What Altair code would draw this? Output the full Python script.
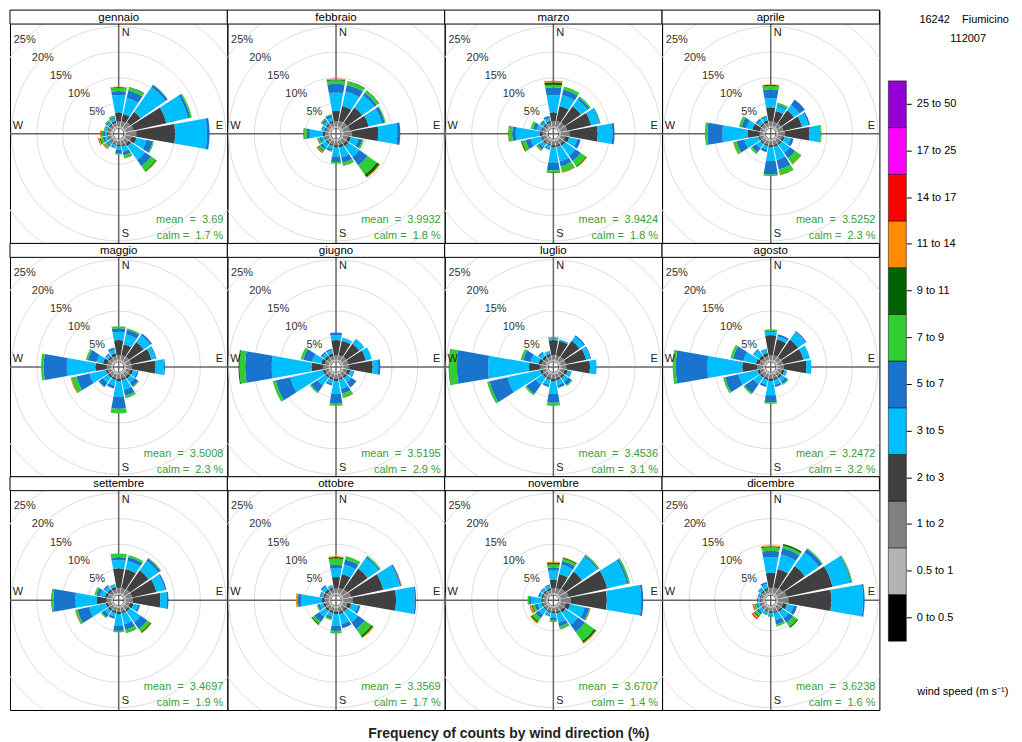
import math
import altair as alt
import pandas as pd

FONT = "Liberation Sans"
NB = "\u00a0"

MONTHS = ["gennaio", "febbraio", "marzo", "aprile", "maggio", "giugno",
          "luglio", "agosto", "settembre", "ottobre", "novembre", "dicembre"]
MEANS = ["3.69", "3.9932", "3.9424", "3.5252", "3.5008", "3.5195",
         "3.4536", "3.2472", "3.4697", "3.3569", "3.6707", "3.6238"]
CALMS = ["1.7", "1.8", "1.8", "2.3", "2.3", "2.9", "3.1", "3.2", "1.9", "1.7", "1.4", "1.6"]

DIRECTIONS = [0, 22.5, 45, 67.5, 90, 112.5, 135, 157.5, 180, 202.5, 225, 247.5, 270, 292.5, 315, 337.5]

SPEED_BINS = ["0 to 0.5", "0.5 to 1", "1 to 2", "2 to 3", "3 to 5", "5 to 7", "7 to 9",
              "9 to 11", "11 to 14", "14 to 17", "17 to 25", "25 to 50"]
SPEED_COLORS = ["#000000", "#B3B3B3", "#808080", "#404040", "#00BFFF", "#1874CD", "#32CD32",
                "#006400", "#FF8C00", "#FF0000", "#FF00FF", "#9400D3"]

RING_VALUES = [5, 10, 15, 20, 25]
RING_LABELS = ["5%", "10%", "15%", "20%", "25%"]

# frequency (%) per direction (16 sectors from N clockwise), per speed bin
GENNAIO = [
    [0.1, 0.4, 0.9, 1.8, 3.4, 0.8, 0.6, 0.15, 0.1],
    [0.1, 0.4, 1.0, 1.5, 3.2, 1.5, 0.6, 0.1],
    [0.1, 0.4, 1.3, 2.5, 5.9, 0.5, 0.1],
    [0.1, 0.4, 1.5, 6.6, 4.3, 0.5, 0.3],
    [0.1, 0.4, 2.0, 7.6, 6.2, 0.5],
    [0.1, 0.4, 1.1, 1.0, 2.0, 1.3, 0.2],
    [0.1, 0.4, 0.9, 0.6, 3.3, 1.5, 1.1, 0.2, 0.1],
    [0.1, 0.4, 0.8, 0.3, 1.1, 0.7, 0.5, 0.1],
    [0.1, 0.4, 0.7, 0.3, 0.7, 0.6, 0.3],
    [0.1, 0.4, 0.6, 0.2, 0.4, 0.2, 0.1],
    [0.1, 0.4, 0.6, 0.2, 0.4, 0.3, 0.4, 0.1, 0.15, 0.1],
    [0.1, 0.4, 0.6, 0.2, 0.5, 0.4, 0.5, 0.2, 0.2, 0.1],
    [0.1, 0.4, 0.6, 0.2, 0.4, 0.4, 0.3, 0.1, 0.15, 0.05],
    [0.1, 0.4, 0.6, 0.2, 0.3, 0.2, 0.15, 0.05],
    [0.1, 0.4, 0.6, 0.3, 0.4, 0.3, 0.2],
    [0.1, 0.4, 0.7, 0.4, 0.5, 0.3, 0.2, 0.1],
]
FEBBRAIO = [
    [0.1, 0.4, 1.0, 2.0, 3.6, 1.7, 0.7, 0.15, 0.1, 0.05],
    [0.1, 0.4, 1.1, 3.0, 2.9, 1.3, 0.7, 0.1],
    [0.1, 0.4, 1.2, 3.6, 2.9, 0.6, 0.5, 0.1],
    [0.1, 0.4, 1.3, 3.8, 2.6, 0.6, 0.2],
    [0.1, 0.4, 1.7, 5.1, 3.7, 0.6],
    [0.1, 0.4, 0.9, 0.6, 1.5, 0.8, 0.3],
    [0.1, 0.4, 0.9, 0.6, 2.6, 2.0, 2.2, 0.6, 0.2],
    [0.1, 0.4, 0.8, 0.5, 2.0, 1.1, 0.5, 0.1],
    [0.1, 0.4, 0.8, 0.4, 1.8, 1.1, 0.3],
    [0.1, 0.4, 0.7, 0.3, 0.6, 0.4, 0.2],
    [0.1, 0.4, 0.7, 0.3, 0.8, 0.5, 0.4, 0.2, 0.2, 0.1],
    [0.1, 0.4, 0.7, 0.2, 0.6, 0.4, 0.3, 0.1],
    [0.1, 0.4, 0.7, 0.4, 2.6, 0.6, 0.5, 0.1, 0.1],
    [0.1, 0.4, 0.6, 0.3, 0.4, 0.2],
    [0.1, 0.4, 0.6, 0.3, 0.6, 0.4, 0.2, 0.1],
    [0.1, 0.4, 0.7, 0.4, 0.7, 0.5, 0.2],
]
MARZO = [
    [0.1, 0.4, 1.0, 1.7, 3.4, 1.5, 0.5, 0.5, 0.2, 0.1],
    [0.1, 0.4, 1.1, 3.0, 2.2, 1.1, 0.6],
    [0.1, 0.4, 1.2, 3.9, 1.6, 0.5, 0.3],
    [0.1, 0.4, 1.3, 4.8, 1.6, 0.2, 0.1],
    [0.1, 0.4, 1.7, 5.5, 2.9, 0.4],
    [0.1, 0.4, 0.9, 0.8, 1.6, 0.7],
    [0.1, 0.4, 0.9, 0.5, 2.4, 1.3, 1.2, 0.2, 0.1],
    [0.1, 0.4, 0.8, 0.4, 2.9, 1.0, 1.1, 0.1, 0.1],
    [0.1, 0.4, 0.8, 0.4, 3.0, 1.5, 0.4, 0.1],
    [0.1, 0.4, 0.7, 0.2, 0.5, 0.3, 0.1],
    [0.1, 0.4, 0.7, 0.3, 0.8, 0.5, 0.3, 0.05, 0.05],
    [0.1, 0.4, 0.7, 0.3, 2.1, 1.0, 0.7, 0.2, 0.1],
    [0.1, 0.4, 0.7, 0.5, 4.7, 0.7, 0.6, 0.15, 0.05],
    [0.1, 0.4, 0.7, 0.3, 0.9, 0.7, 0.5],
    [0.1, 0.4, 0.6, 0.3, 0.5, 0.3, 0.1],
    [0.1, 0.4, 0.7, 0.4, 0.6, 0.4, 0.1],
]
APRILE = [
    [0.1, 0.4, 1.0, 2.7, 1.8, 1.7, 0.7, 0.2, 0.1],
    [0.1, 0.4, 0.9, 2.2, 1.0, 0.3, 0.4],
    [0.1, 0.4, 1.0, 3.1, 1.3, 1.3],
    [0.1, 0.4, 1.1, 3.7, 1.3, 0.3],
    [0.1, 0.4, 1.3, 4.8, 2.1, 0.1, 0.2],
    [0.1, 0.4, 0.8, 0.5, 1.2, 0.6],
    [0.1, 0.4, 0.8, 0.4, 1.9, 1.3, 1.3, 0.1, 0.1],
    [0.1, 0.4, 0.8, 0.4, 2.6, 1.9, 1.0, 0.1, 0.1],
    [0.1, 0.4, 0.8, 0.4, 2.7, 2.6, 0.3],
    [0.1, 0.4, 0.7, 0.3, 0.7, 0.5],
    [0.1, 0.4, 0.7, 0.3, 1.0, 1.0, 0.4],
    [0.1, 0.4, 0.7, 0.3, 2.8, 1.6, 0.5, 0.1, 0.1],
    [0.1, 0.4, 0.7, 2.3, 5.0, 2.9, 0.5],
    [0.1, 0.4, 0.7, 1.5, 1.2, 1.0, 0.5],
    [0.1, 0.4, 0.7, 0.4, 0.6, 0.4, 0.1],
    [0.1, 0.4, 0.7, 0.5, 0.6, 0.3, 0.1],
]
MAGGIO = [
    [0.1, 0.4, 0.9, 2.9, 1.6, 0.7, 0.4],
    [0.1, 0.4, 0.9, 2.2, 2.0, 0.9, 0.3],
    [0.1, 0.4, 1.0, 3.5, 1.6, 0.4],
    [0.1, 0.4, 1.0, 4.1, 0.8, 0.2],
    [0.1, 0.4, 1.1, 4.6, 1.7, 0.2],
    [0.1, 0.4, 0.8, 0.6, 0.8, 0.3],
    [0.1, 0.4, 0.8, 0.5, 1.0, 0.9, 0.2],
    [0.1, 0.4, 0.8, 0.4, 1.9, 1.2, 0.5],
    [0.1, 0.4, 0.8, 0.5, 3.1, 2.3, 0.9],
    [0.1, 0.4, 0.7, 0.4, 1.1, 0.6],
    [0.1, 0.4, 0.7, 0.4, 1.2, 1.0, 0.1],
    [0.1, 0.4, 0.7, 0.4, 3.3, 2.6, 0.9, 0.1, 0.2],
    [0.1, 0.4, 0.9, 2.2, 5.6, 4.5, 0.5],
    [0.1, 0.4, 0.8, 0.9, 1.3, 1.7, 0.4],
    [0.1, 0.4, 0.7, 0.4, 0.5, 0.2],
    [0.1, 0.4, 0.7, 0.6, 0.7, 0.4, 0.1],
]
GIUGNO = [
    [0.1, 0.4, 0.9, 2.9, 1.0, 0.5],
    [0.1, 0.4, 0.9, 2.9, 0.6],
    [0.1, 0.4, 1.0, 3.1, 1.2],
    [0.1, 0.4, 1.0, 3.5, 1.2],
    [0.1, 0.4, 1.1, 4.6, 1.1, 0.4],
    [0.1, 0.4, 0.8, 0.6, 0.6, 0.2],
    [0.1, 0.4, 0.8, 0.4, 1.0, 1.2],
    [0.1, 0.4, 0.8, 0.3, 1.8, 1.0, 0.7, 0.1, 0.1],
    [0.1, 0.4, 0.8, 0.5, 2.5, 1.9, 0.4],
    [0.1, 0.4, 0.7, 0.4, 0.7, 0.4],
    [0.1, 0.4, 0.7, 0.4, 1.9, 1.5, 0.3],
    [0.1, 0.4, 0.7, 0.5, 6.5, 2.9, 0.6],
    [0.1, 0.4, 1.1, 2.2, 7.8, 5.2, 1.1, 0.2],
    [0.1, 0.4, 0.8, 0.7, 1.8, 1.8, 0.5],
    [0.1, 0.4, 0.7, 0.5, 0.7, 0.3],
    [0.1, 0.4, 0.7, 0.6, 0.6, 0.3],
]
LUGLIO = [
    [0.1, 0.4, 0.9, 2.9, 0.2, 0.2, 0.2],
    [0.1, 0.4, 0.9, 2.9, 0.3],
    [0.1, 0.4, 1.0, 3.8, 1.0, 0.3],
    [0.1, 0.4, 1.0, 4.1, 0.8, 0.2],
    [0.1, 0.4, 1.1, 4.6, 1.3],
    [0.1, 0.4, 0.8, 0.6, 0.6, 0.2],
    [0.1, 0.4, 0.8, 0.4, 0.9, 0.8, 0.2],
    [0.1, 0.4, 0.8, 0.4, 0.9, 0.6],
    [0.1, 0.4, 0.8, 0.5, 2.5, 1.7, 0.6],
    [0.1, 0.4, 0.7, 0.4, 1.0, 0.4],
    [0.1, 0.4, 0.7, 0.4, 1.7, 2.2, 0.3],
    [0.1, 0.4, 0.7, 0.5, 6.5, 3.6, 0.5],
    [0.1, 0.4, 1.1, 2.2, 8.0, 6.1, 1.5, 0.1],
    [0.1, 0.4, 0.8, 0.7, 1.6, 1.5, 0.5],
    [0.1, 0.4, 0.7, 0.5, 0.7, 0.3],
    [0.1, 0.4, 0.7, 0.5, 0.5, 0.1],
]
AGOSTO = [
    [0.1, 0.4, 0.9, 3.9, 0.6, 0.2, 0.3],
    [0.1, 0.4, 0.9, 3.2, 0.6, 0.4],
    [0.1, 0.4, 1.0, 4.1, 1.8, 0.2],
    [0.1, 0.4, 1.0, 4.1, 1.3],
    [0.1, 0.4, 1.1, 4.4, 1.0],
    [0.1, 0.4, 0.8, 0.5, 0.4, 0.1],
    [0.1, 0.4, 0.8, 0.4, 0.8, 0.6, 0.2],
    [0.1, 0.4, 0.8, 0.4, 0.9, 0.4],
    [0.1, 0.4, 0.8, 0.5, 2.8, 1.3, 0.3],
    [0.1, 0.4, 0.7, 0.4, 1.0, 0.4],
    [0.1, 0.4, 0.7, 0.4, 1.6, 2.1, 0.3],
    [0.1, 0.4, 0.7, 0.5, 3.8, 2.7, 0.4],
    [0.1, 0.4, 1.2, 2.9, 6.8, 6.2, 0.6],
    [0.1, 0.4, 0.8, 0.7, 2.5, 2.1, 0.5],
    [0.1, 0.4, 0.7, 0.6, 1.3, 0.2],
    [0.1, 0.4, 0.7, 0.7, 0.6, 0.2],
]
SETTEMBRE = [
    [0.1, 0.4, 1.0, 3.8, 1.6, 0.6, 0.7],
    [0.1, 0.4, 1.0, 3.8, 1.6, 0.8, 0.4],
    [0.1, 0.4, 1.2, 4.5, 2.3, 0.5, 0.2],
    [0.1, 0.4, 1.2, 4.9, 1.7, 0.3],
    [0.1, 0.4, 1.3, 5.4, 1.3, 0.3],
    [0.1, 0.4, 0.8, 0.7, 0.9, 0.4],
    [0.1, 0.4, 0.8, 0.4, 2.6, 1.6, 0.7, 0.2, 0.1],
    [0.1, 0.4, 0.8, 0.4, 2.1, 1.1, 0.6, 0.1],
    [0.1, 0.4, 0.8, 0.4, 2.3, 1.0, 0.3],
    [0.1, 0.4, 0.7, 0.4, 0.7, 0.4],
    [0.1, 0.4, 0.7, 0.4, 0.8, 0.7, 0.2],
    [0.1, 0.4, 0.7, 0.4, 3.4, 2.3, 0.3, 0.1, 0.1],
    [0.1, 0.4, 0.9, 1.9, 4.2, 4.3, 0.3, 0.1],
    [0.1, 0.4, 0.8, 0.5, 1.0, 0.7, 0.4],
    [0.1, 0.4, 0.7, 0.5, 0.7, 0.3],
    [0.1, 0.4, 0.7, 0.5, 0.5, 0.1],
]
OTTOBRE = [
    [0.1, 0.4, 0.9, 2.2, 1.7, 0.7, 1.2, 0.3, 0.2],
    [0.1, 0.4, 1.0, 2.8, 1.9, 1.0, 0.7],
    [0.1, 0.4, 1.2, 4.9, 2.6, 0.3, 0.2],
    [0.1, 0.4, 1.5, 6.5, 3.3, 0.3, 0.0, 0.0, 0.1],
    [0.1, 0.4, 1.8, 8.5, 3.6, 0.3],
    [0.1, 0.4, 0.8, 0.8, 1.3, 0.5],
    [0.1, 0.4, 0.8, 0.4, 2.6, 1.6, 1.6, 0.4, 0.2],
    [0.1, 0.4, 0.8, 0.5, 2.0, 0.8],
    [0.1, 0.4, 0.8, 0.4, 2.3, 1.0, 0.5],
    [0.1, 0.4, 0.7, 0.4, 0.7, 0.4, 0.3],
    [0.1, 0.4, 0.7, 0.4, 1.4, 1.2, 0.5, 0.2],
    [0.1, 0.4, 0.7, 0.4, 0.7, 0.4, 0.2],
    [0.1, 0.4, 0.8, 0.5, 4.1, 0.6, 0.2, 0.0, 0.2],
    [0.1, 0.4, 0.7, 0.4, 0.5, 0.2],
    [0.1, 0.4, 0.7, 0.5, 0.7, 0.3],
    [0.1, 0.4, 0.7, 0.4, 0.4, 0.1],
]
NOVEMBRE = [
    [0.1, 0.4, 0.9, 1.7, 1.8, 0.6, 0.6, 0.3, 0.2],
    [0.1, 0.4, 1.0, 2.8, 1.9, 0.7, 0.5, 0.2, 0.1],
    [0.1, 0.4, 1.3, 4.1, 3.6, 0.3, 0.2],
    [0.1, 0.4, 1.6, 7.7, 3.9, 0.4, 0.3],
    [0.1, 0.4, 2.0, 7.0, 6.7, 0.4],
    [0.1, 0.4, 1.0, 0.9, 2.9, 0.9, 0.1, 0.1, 0.1],
    [0.1, 0.4, 0.9, 0.6, 2.9, 1.7, 2.2, 0.4, 0.2],
    [0.1, 0.4, 0.8, 0.4, 1.8, 0.8, 0.4, 0.1],
    [0.1, 0.4, 0.7, 0.3, 0.9, 0.5, 0.2, 0.1, 0.1],
    [0.1, 0.4, 0.7, 0.3, 0.5, 0.2, 0.1],
    [0.1, 0.4, 0.6, 0.3, 1.1, 0.8, 0.8, 0.3, 0.2],
    [0.1, 0.4, 0.6, 0.3, 0.8, 0.6, 0.4, 0.2, 0.3, 0.1],
    [0.1, 0.4, 0.6, 0.3, 2.0, 0.4, 0.3],
    [0.1, 0.4, 0.6, 0.3, 0.4, 0.3],
    [0.1, 0.4, 0.6, 0.3, 0.5, 0.2],
    [0.1, 0.4, 0.6, 0.4, 0.5, 0.2],
]
DICEMBRE = [
    [0.1, 0.4, 1.0, 2.9, 3.1, 1.2, 0.7, 0.2, 0.2],
    [0.1, 0.4, 1.1, 3.7, 2.9, 1.3, 0.5, 0.3],
    [0.1, 0.4, 1.4, 5.3, 3.3, 0.8, 0.2],
    [0.1, 0.4, 1.7, 9.2, 3.6, 0.2, 0.2],
    [0.1, 0.4, 2.0, 8.4, 6.2, 0.3],
    [0.1, 0.4, 1.0, 0.8, 1.3, 0.7],
    [0.1, 0.4, 0.9, 0.4, 1.5, 1.1, 1.0, 0.2],
    [0.1, 0.4, 0.8, 0.3, 1.4, 0.9, 0.4],
    [0.1, 0.4, 0.7, 0.3, 0.5, 0.2, 0.1],
    [0.1, 0.4, 0.6, 0.2, 0.4, 0.2, 0.1],
    [0.1, 0.4, 0.6, 0.2, 0.6, 0.5, 0.5, 0.2, 0.3, 0.2],
    [0.1, 0.4, 0.6, 0.2, 0.4, 0.3, 0.3, 0.1, 0.2, 0.1],
    [0.1, 0.4, 0.5, 0.2, 0.3, 0.2],
    [0.1, 0.4, 0.5, 0.2, 0.3, 0.2],
    [0.1, 0.4, 0.6, 0.3, 0.5, 0.2],
    [0.1, 0.4, 0.6, 0.4, 0.8, 0.4],
]

MONTH_DATA = [GENNAIO, FEBBRAIO, MARZO, APRILE, MAGGIO, GIUGNO,
              LUGLIO, AGOSTO, SETTEMBRE, OTTOBRE, NOVEMBRE, DICEMBRE]

# ---------------- layout constants ----------------
W = 218          # panel width
STRIP = 14       # strip height
PH = 220         # polar plot height
H = STRIP + PH
CX = W / 2
CY = STRIP + PH / 2
HALF = 10        # half width of a petal in degrees
OFF = 5          # radius of the central hole in px
PX_PER_PCT = 5.13

RSCALE = alt.Scale(type="linear", domain=[0, 30], range=[OFF, OFF + 30 * PX_PER_PCT])
TSCALE = alt.Scale(type="linear", domain=[0, 360], range=[0, 2 * math.pi])
CSCALE = alt.Scale(domain=SPEED_BINS, range=SPEED_COLORS)

rows = []
for name, petals in zip(MONTHS, MONTH_DATA):
    for d, vals in zip(DIRECTIONS, petals):
        cum = 0.0
        for k, v in enumerate(vals):
            if v > 0:
                rows.append({"month": name, "dir": d, "speed": SPEED_BINS[k],
                             "r0": cum, "r1": cum + v, "t0": d - HALF, "t1": d + HALF})
            cum += v
petal_df = pd.DataFrame(rows)
ring_df = pd.DataFrame({"r": RING_VALUES, "lab": RING_LABELS})
one = pd.DataFrame({"a": [0]})


def panel(i):
    name = MONTHS[i]
    sub = petal_df[petal_df["month"] == name]
    center = dict(x=alt.value(CX), y=alt.value(CY))

    rings = alt.Chart(ring_df).mark_arc(fillOpacity=0, stroke="#dddddd", strokeWidth=1, clip=True).encode(
        theta=alt.value(0), theta2=alt.value(2 * math.pi),
        radius=alt.Radius("r:Q", scale=RSCALE, stack=False), radius2=alt.value(0), **center)
    hline = alt.Chart(one).mark_rule(color="#666666", strokeWidth=1.5).encode(
        x=alt.value(0), x2=alt.value(W), y=alt.value(CY))
    vline = alt.Chart(one).mark_rule(color="#666666", strokeWidth=1.5).encode(
        x=alt.value(CX), y=alt.value(STRIP), y2=alt.value(H))
    wedges = alt.Chart(sub).mark_arc(clip=True).encode(
        theta=alt.Theta("t0:Q", scale=TSCALE, stack=False), theta2=alt.Theta2("t1"),
        radius=alt.Radius("r0:Q", scale=RSCALE, stack=False), radius2=alt.Radius2("r1"),
        color=alt.Color("speed:N", scale=CSCALE, legend=None), **center)
    ringlab = alt.Chart(ring_df).mark_text(font=FONT, fontSize=11, color="#333333").encode(
        theta=alt.value(math.radians(315)),
        radius=alt.Radius("r:Q", scale=RSCALE, stack=False),
        text="lab:N", **center)
    ns = alt.Chart(pd.DataFrame({"lab": ["N", "S"], "ang": [0, 180]})).mark_text(
        font=FONT, fontSize=11, color="#222222", align="left", dx=3).encode(
        theta=alt.Theta("ang:Q", scale=TSCALE, stack=False), radius=alt.value(101),
        text="lab:N", **center)
    ew = alt.Chart(pd.DataFrame({"lab": ["E", "W"], "ang": [90, 270]})).mark_text(
        font=FONT, fontSize=11, color="#222222", dy=-8).encode(
        theta=alt.Theta("ang:Q", scale=TSCALE, stack=False), radius=alt.value(101),
        text="lab:N", **center)
    strip = alt.Chart(one).mark_rect(fill="white", stroke="black", strokeWidth=1).encode(
        x=alt.value(0), x2=alt.value(W), y=alt.value(0), y2=alt.value(STRIP))
    striptext = alt.Chart(one).mark_text(font=FONT, fontSize=11.5, color="black").encode(
        x=alt.value(CX), y=alt.value(STRIP / 2 + 0.5), text=alt.value(name))
    mean_t = alt.Chart(one).mark_text(font=FONT, fontSize=11, color="#3a9d3a", align="right").encode(
        x=alt.value(W - 4), y=alt.value(H - 23),
        text=alt.value(f"mean{NB}{NB}={NB}{NB}{MEANS[i]}"))
    calm_t = alt.Chart(one).mark_text(font=FONT, fontSize=11, color="#3a9d3a", align="right").encode(
        x=alt.value(W - 4), y=alt.value(H - 7),
        text=alt.value(f"calm{NB}={NB}{NB}{CALMS[i]}{NB}%"))

    return alt.layer(rings, hline, vline, wedges, ringlab, ns, ew, strip, striptext, mean_t, calm_t).properties(
        width=W, height=H, view=alt.ViewBackground(stroke="black", strokeWidth=1))


panels = [panel(i) for i in range(12)]
grid = alt.concat(*panels, columns=4, spacing=0, bounds="flush")

# ---------------- colour key ----------------
leg_df = pd.DataFrame({"speed": SPEED_BINS})
bar = alt.Chart(leg_df).mark_rect(stroke="black", strokeWidth=0.5).encode(
    y=alt.Y("speed:N", sort=SPEED_BINS[::-1],
            scale=alt.Scale(range=[71, 633], paddingInner=0, paddingOuter=0),
            axis=alt.Axis(orient="right", title=None, domain=False, tickSize=5, tickColor="black",
                          labelFontSize=11, labelColor="black", labelFont=FONT, labelPadding=5)),
    x=alt.value(0), x2=alt.value(18),
    color=alt.Color("speed:N", scale=CSCALE, legend=None))
head1 = alt.Chart(one).mark_text(font=FONT, fontSize=11, color="black").encode(
    x=alt.value(76), y=alt.value(10), text=alt.value(f"16242{NB}{NB}{NB}{NB}Fiumicino"))
head2 = alt.Chart(one).mark_text(font=FONT, fontSize=11, color="black").encode(
    x=alt.value(80), y=alt.value(29), text=alt.value("112007"))
wslab = alt.Chart(one).mark_text(font=FONT, fontSize=11, color="black", align="left").encode(
    x=alt.value(29), y=alt.value(684), text=alt.value("wind speed (m s\u207b\u00b9)"))
legend = alt.layer(bar, head1, head2, wslab).properties(
    width=18, height=H * 3, view=alt.ViewBackground(strokeWidth=0))

chart = alt.hconcat(grid, legend, spacing=6).properties(
    title=alt.TitleParams("Frequency of counts by wind direction (%)", orient="bottom", anchor="middle",
                          fontSize=14, fontWeight="bold", font=FONT, color="#222222", offset=16),
    padding={"left": 0, "top": 0, "right": 5, "bottom": 5},
).configure(font=FONT)

chart.save("out.html", embed_options={"renderer": "svg", "actions": False})
